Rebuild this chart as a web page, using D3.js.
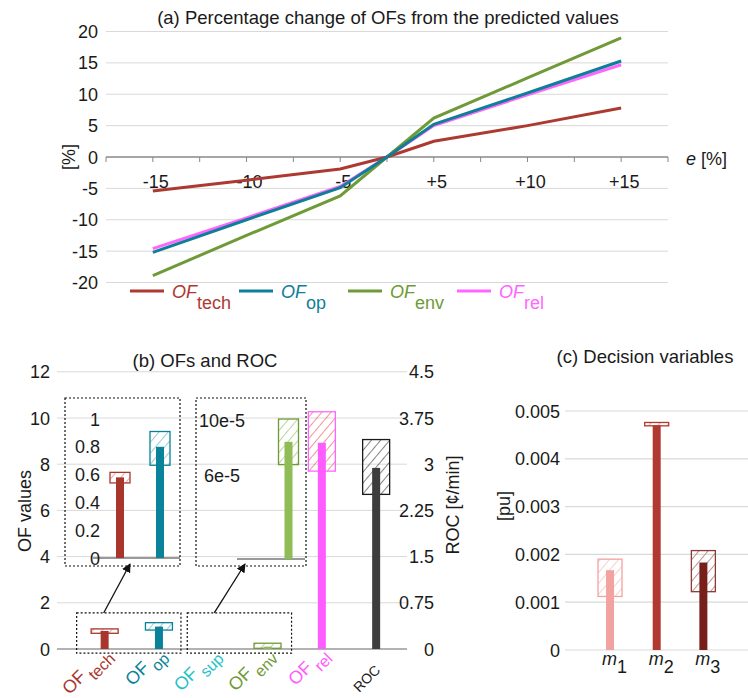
<!DOCTYPE html>
<html>
<head>
<meta charset="utf-8">
<script src="https://cdn.jsdelivr.net/npm/d3@7"></script>
<style>
body { margin: 0; background: #fff; }
text { font-family: "Liberation Sans", Arial, sans-serif; fill: #1a1a1a; }
</style>
</head>
<body>
<div id="chart"></div>
<script>
// ---- data: (a) percentage change of OFs
const eValues = [-15, -10, -5, 0, 5, 10, 15]
const eLabels = [-15, -10, -5, 5, 10, 15]
const ofTech = [-5.4, -3.7, -1.9, 0, 2.5, 5.0, 7.8]
const ofOp = [-15.2, -10.0, -4.9, 0, 5.2, 10.2, 15.3]
const ofEnv = [-18.9, -12.5, -6.2, 0, 6.2, 12.6, 19.0]
const ofRel = [-14.6, -9.7, -4.7, 0, 5.0, 9.9, 14.7]
const pctTicks = [-20, -15, -10, -5, 0, 5, 10, 15, 20]

// ---- data: (b) OFs and ROC
const ofCats = ["tech", "op", "sup", "env", "rel", "ROC"]
const ofValue = [0.78, 0.97, null, 0.1, 8.93, 2.94]   // ROC on right axis
const ofLow = [0.68, 0.82, null, 0.03, 7.7, 2.51]
const ofHigh = [0.87, 1.14, null, 0.25, 10.27, 3.40]
const ofTicks = [0, 2, 4, 6, 8, 10, 12]
const rocTicks = [0, 0.75, 1.5, 2.25, 3, 3.75, 4.5]
// zoomed insets
const zoom1Cats = ["tech", "op"]
const zoom1Value = [0.58, 0.80]
const zoom1Low = [0.54, 0.667]
const zoom1High = [0.616, 0.91]
const zoom1Ticks = [0, 0.2, 0.4, 0.6, 0.8, 1]
const zoom2Cats = ["sup", "env"]
const zoom2Value = [null, 8.43e-5]
const zoom2Low = [null, 6.79e-5]
const zoom2High = [null, 10.07e-5]
const zoom2Ticks = [6e-5, 10e-5]

// ---- data: (c) decision variables
const mCats = ["1", "2", "3"]
const mValue = [0.00167, 0.0047, 0.00183]
const mLow = [0.00112, 0.00469, 0.00122]
const mHigh = [0.0019, 0.00476, 0.00208]
const puTicks = [0, 0.001, 0.002, 0.003, 0.004, 0.005]

const width = 748
const height = 698
const fs = 18   // tick / label font size
const svg = d3.select("#chart").append("svg").attr("width", width).attr("height", height)
const defs = svg.append("defs")

function hatch(id, color) {
    const p = defs.append("pattern").attr("id", id)
        .attr("patternUnits", "userSpaceOnUse")
        .attr("width", 7).attr("height", 7)
        .attr("patternTransform", "rotate(40)")
    p.append("line").attr("x1", 0).attr("y1", 0).attr("x2", 0).attr("y2", 7)
        .attr("stroke", color).attr("stroke-width", 1.6)
    return `url(#${id})`
}

// =========== (a) ===========
const xA = d3.scaleLinear().domain([-17.5, -5, 0, 5, 17.5]).range([106, 340.2, 387, 433.8, 668])
const yA = d3.scaleLinear().domain([-20, 20]).range([282.5, 31.5])
const gA = svg.append("g")

gA.selectAll(".grid").data(pctTicks.filter(d => d !== 0)).join("line")
    .attr("x1", 106).attr("x2", 668)
    .attr("y1", d => yA(d)).attr("y2", d => yA(d))
    .attr("stroke", "#d9d9d9").attr("stroke-width", 1)

gA.selectAll(".ylab").data(pctTicks).join("text")
    .attr("x", 98).attr("y", d => yA(d) + 6.5)
    .attr("text-anchor", "end").attr("font-size", fs)
    .text(d => d)

const xTickVals = [-17.5, -15, -12.5, -10, -7.5, -5, 0, 5, 7.5, 10, 12.5, 15, 17.5]
gA.append("line").attr("x1", 106).attr("x2", 668)
    .attr("y1", yA(0)).attr("y2", yA(0)).attr("stroke", "#888").attr("stroke-width", 1.5)
gA.selectAll(".xtick").data(xTickVals).join("line")
    .attr("x1", d => xA(d)).attr("x2", d => xA(d))
    .attr("y1", yA(0)).attr("y2", yA(0) + 5)
    .attr("stroke", "#888")
gA.selectAll(".xlab").data(eLabels).join("text")
    .attr("x", d => xA(d) + 3).attr("y", yA(0) + 31)
    .attr("text-anchor", "middle").attr("font-size", fs)
    .text(d => d > 0 ? "+" + d : d)

const seriesA = [
    {name: "tech", values: ofTech, color: "#ac3a31"},
    {name: "op", values: ofOp, color: "#0f7f99"},
    {name: "env", values: ofEnv, color: "#6f9a38"},
    {name: "rel", values: ofRel, color: "#ff66ff"}
]
const lineA = d3.line().x((d, i) => xA(eValues[i])).y(d => yA(d))
// rel drawn under op, so draw order rel, env, tech, op
gA.selectAll(".series").data([seriesA[3], seriesA[2], seriesA[0], seriesA[1]]).join("path")
    .attr("d", d => lineA(d.values))
    .attr("fill", "none").attr("stroke", d => d.color).attr("stroke-width", 3)

gA.append("text").attr("x", 388).attr("y", 24).attr("text-anchor", "middle")
    .attr("font-size", 18.5).text("(a) Percentage change of OFs from the predicted values")
gA.append("text").attr("transform", `translate(75,${yA(0)}) rotate(-90)`)
    .attr("text-anchor", "middle").attr("font-size", fs).text("[%]")
const eLab = gA.append("text").attr("x", 686).attr("y", yA(0) + 8).attr("font-size", fs)
eLab.append("tspan").attr("font-style", "italic").text("e")
eLab.append("tspan").text(" [%]")

// legend
const legA = gA.selectAll(".leg").data(seriesA).join("g")
    .attr("transform", (d, i) => `translate(${130 + i * 109},291)`)
legA.append("line").attr("x1", 0).attr("x2", 34).attr("stroke", d => d.color).attr("stroke-width", 3)
const legText = legA.append("text").attr("x", 42).attr("y", 7).attr("font-size", fs)
    .style("fill", d => d.color)
legText.append("tspan").attr("font-style", "italic").text("OF")
legText.append("tspan").attr("dy", 11).text(d => d.name)

// =========== (b) ===========
const yB = d3.scaleLinear().domain([0, 12]).range([649, 371.8])
const yR = d3.scaleLinear().domain([0, 4.5]).range([649, 371.8])
const xB = d3.scaleBand().domain(ofCats).range([77.5, 403.3])
const cx = c => xB(c) + xB.bandwidth() / 2
const gB = svg.append("g")

gB.selectAll(".grid").data(ofTicks.filter(d => d > 0)).join("line")
    .attr("x1", 57).attr("x2", 407)
    .attr("y1", d => yB(d)).attr("y2", d => yB(d))
    .attr("stroke", "#d9d9d9")
gB.append("line").attr("x1", 57).attr("x2", 407).attr("y1", yB(0)).attr("y2", yB(0))
    .attr("stroke", "#999").attr("stroke-width", 1.5)
gB.selectAll(".ylab").data(ofTicks).join("text")
    .attr("x", 50).attr("y", d => yB(d) + 6.5).attr("text-anchor", "end").attr("font-size", fs)
    .text(d => d)
gB.selectAll(".rlab").data(rocTicks).join("text")
    .attr("x", 434).attr("y", d => yR(d) + 6.5).attr("text-anchor", "end").attr("font-size", fs)
    .text(d => d)
gB.append("text").attr("x", 205).attr("y", 367).attr("text-anchor", "middle")
    .attr("font-size", 18.5).text("(b) OFs and ROC")
gB.append("text").attr("transform", "translate(31,511) rotate(-90)")
    .attr("text-anchor", "middle").attr("font-size", fs).text("OF values")
gB.append("text").attr("transform", "translate(459,505) rotate(-90)")
    .attr("text-anchor", "middle").attr("font-size", fs).text("ROC [¢/min]")

const colB = {
    tech: {bar: "#a9362d", line: "#a9362d", hatch: "#e69a94", label: "#a9362d"},
    op: {bar: "#0a8299", line: "#0a8299", hatch: "#7fc3d1", label: "#0a8299"},
    sup: {bar: "#20c4c4", line: "#20c4c4", hatch: "#20c4c4", label: "#1fc2c6"},
    env: {bar: "#8fbc55", line: "#6f9a38", hatch: "#a8cc80", label: "#6f9a38"},
    rel: {bar: "#ff5cff", line: "#ff66ff", hatch: "#f07a7a", label: "#ff5cff"},
    ROC: {bar: "#3d3d3d", line: "#1a1a1a", hatch: "#666", label: "#1a1a1a"}
}
ofCats.forEach(c => { colB[c].fill = hatch("h-" + c, colB[c].hatch) })

const rowsB = ofCats.map((c, i) => ({cat: c, v: ofValue[i], lo: ofLow[i], hi: ofHigh[i],
    y: c === "ROC" ? yR : yB})).filter(d => d.v !== null)

gB.selectAll(".box").data(rowsB).join("rect")
    .attr("x", d => cx(d.cat) - 13.5).attr("width", 27)
    .attr("y", d => d.y(d.hi)).attr("height", d => d.y(d.lo) - d.y(d.hi))
    .attr("fill", d => colB[d.cat].fill).attr("stroke", d => colB[d.cat].line).attr("stroke-width", 1.3)
gB.selectAll(".bar").data(rowsB).join("rect")
    .attr("x", d => cx(d.cat) - 4).attr("width", 8)
    .attr("y", d => d.y(d.v)).attr("height", d => d.y(0) - d.y(d.v))
    .attr("fill", d => colB[d.cat].bar)

// category labels, rotated 45deg: "OF" + lowered subscript, each a separate text in a rotated group
const ofLabCats = ofCats.filter(d => d !== "ROC")
const labB = gB.selectAll(".clab").data(ofLabCats).join("g")
    .attr("transform", d => `translate(${cx(d) + 6},654) rotate(-45)`)
    .style("fill", d => colB[d].label)
labB.append("text").attr("class", "sub").attr("x", 0).attr("y", 8)
    .attr("text-anchor", "end").attr("font-size", 16)
    .style("fill", d => colB[d].label).text(d => d)
labB.each(function() {
    const g = d3.select(this)
    const w = g.select(".sub").node().getComputedTextLength()
    g.append("text").attr("x", -w - 3).attr("y", 0).attr("text-anchor", "end")
        .attr("font-size", 18).style("fill", d => colB[d].label).text("OF")
})
gB.append("text")
    .attr("transform", `translate(${cx("ROC") + 5},671) rotate(-45)`)
    .attr("text-anchor", "end").attr("font-size", 14).text("ROC")

// insets with dotted frames
function inset(cats, values, lows, highs, yScale, xRange, frame, base) {
    const xs = d3.scaleBand().domain(cats).range(xRange)
    const g = gB.append("g")
    g.append("rect").attr("x", frame[0]).attr("y", frame[1])
        .attr("width", frame[2] - frame[0]).attr("height", frame[3] - frame[1])
        .attr("fill", "none").attr("stroke", "#111").attr("stroke-dasharray", "2,2").attr("stroke-width", 1.2)
    g.append("line").attr("x1", base[0]).attr("x2", base[1])
        .attr("y1", yScale(0)).attr("y2", yScale(0)).attr("stroke", "#999").attr("stroke-width", 2)
    const rows = cats.map((c, i) => ({cat: c, v: values[i], lo: lows[i], hi: highs[i]})).filter(d => d.v !== null)
    const mid = c => xs(c) + xs.bandwidth() / 2
    g.selectAll(".box").data(rows).join("rect")
        .attr("x", d => mid(d.cat) - 10).attr("width", 20)
        .attr("y", d => yScale(d.hi)).attr("height", d => yScale(d.lo) - yScale(d.hi))
        .attr("fill", d => colB[d.cat].fill).attr("stroke", d => colB[d.cat].line).attr("stroke-width", 1.3)
    g.selectAll(".bar").data(rows).join("rect")
        .attr("x", d => mid(d.cat) - 4).attr("width", 8)
        .attr("y", d => yScale(d.v)).attr("height", d => yScale(0) - yScale(d.v))
        .attr("fill", d => colB[d.cat].bar)
    return g
}
const yZ1 = d3.scaleLinear().domain([0, 1]).range([558, 419])
const z1 = inset(zoom1Cats, zoom1Value, zoom1Low, zoom1High, yZ1, [100, 180], [65, 398, 180, 566], [93, 180])
z1.selectAll(".zl").data(zoom1Ticks).join("text")
    .attr("x", 100).attr("y", d => yZ1(d) + 6.5).attr("text-anchor", "end").attr("font-size", fs)
    .text(d => d)
const yZ2 = d3.scaleLinear().domain([0, 10e-5]).range([559, 420])
const z2 = inset(zoom2Cats, zoom2Value, zoom2Low, zoom2High, yZ2, [236, 306], [196, 398, 306, 566], [237, 305])
z2.selectAll(".zl").data(zoom2Ticks).join("text")
    .attr("x", 222).attr("y", d => yZ2(d) + 6.5).attr("text-anchor", "middle").attr("font-size", fs)
    .text(d => Math.round(d * 1e5) + "e-5")

// small dotted boxes around the tiny bars + arrows
const markerArrow = defs.append("marker").attr("id", "arr")
    .attr("viewBox", "0 0 10 10").attr("refX", 9).attr("refY", 5)
    .attr("markerWidth", 7).attr("markerHeight", 7).attr("orient", "auto")
markerArrow.append("path").attr("d", "M0,0 L10,5 L0,10 z").attr("fill", "#111")
const smallBoxes = [
    {x0: cx("tech") - 28, x1: cx("op") + 22, to: [130, 564]},
    {x0: cx("sup") - 26, x1: cx("env") + 24, to: [245, 564]}
]
gB.selectAll(".sbox").data(smallBoxes).join("rect")
    .attr("x", d => d.x0).attr("width", d => d.x1 - d.x0)
    .attr("y", yB(1.56)).attr("height", yB(-0.18) - yB(1.56))
    .attr("fill", "none").attr("stroke", "#111").attr("stroke-dasharray", "2,2").attr("stroke-width", 1.2)
gB.selectAll(".arrow").data(smallBoxes).join("line")
    .attr("x1", d => d.x0 + 27).attr("y1", yB(1.56))
    .attr("x2", d => d.to[0]).attr("y2", d => d.to[1])
    .attr("stroke", "#111").attr("stroke-width", 1.3).attr("marker-end", "url(#arr)")

// =========== (c) ===========
const yC = d3.scaleLinear().domain([0, 0.005]).range([650, 411])
const xC = d3.scaleBand().domain(mCats).range([586.7, 726.7])
const mx = c => xC(c) + xC.bandwidth() / 2
const gC = svg.append("g")
gC.selectAll(".grid").data(puTicks).join("line")
    .attr("x1", 565).attr("x2", 748)
    .attr("y1", d => yC(d)).attr("y2", d => yC(d))
    .attr("stroke", "#d9d9d9").attr("stroke-width", 1.2)
gC.selectAll(".ylab").data(puTicks).join("text")
    .attr("x", 560).attr("y", d => yC(d) + 6.5).attr("text-anchor", "end").attr("font-size", fs)
    .text(d => d)
gC.append("text").attr("x", 645).attr("y", 363).attr("text-anchor", "middle")
    .attr("font-size", 18.5).text("(c) Decision variables")
gC.append("text").attr("transform", "translate(510,506) rotate(-90)")
    .attr("text-anchor", "middle").attr("font-size", fs).text("[pu]")

const colC = [
    {bar: "#f2a3a0", line: "#f2a3a0", hatch: "#f6c3c1"},
    {bar: "#b03a31", line: "#b03a31", hatch: "#e6a09a"},
    {bar: "#77201a", line: "#8b3a35", hatch: "#b07a76"}
]
colC.forEach((c, i) => { c.fill = hatch("hm" + i, c.hatch) })
const rowsC = mCats.map((c, i) => ({cat: c, v: mValue[i], lo: mLow[i], hi: mHigh[i], col: colC[i]}))
gC.selectAll(".box").data(rowsC).join("rect")
    .attr("x", d => mx(d.cat) - 12).attr("width", 24)
    .attr("y", d => yC(d.hi)).attr("height", d => yC(d.lo) - yC(d.hi))
    .attr("fill", d => d.col.fill).attr("stroke", d => d.col.line).attr("stroke-width", 1.3)
gC.selectAll(".bar").data(rowsC).join("rect")
    .attr("x", d => mx(d.cat) - 4).attr("width", 8)
    .attr("y", d => yC(d.v)).attr("height", d => yC(0) - yC(d.v))
    .attr("fill", d => d.col.bar)
const mLab = gC.selectAll(".mlab").data(mCats).join("text")
    .attr("x", d => mx(d) - 8).attr("y", 665).attr("font-size", fs)
mLab.append("tspan").attr("font-style", "italic").text("m")
mLab.append("tspan").attr("dy", 8).text(d => d)
</script>
</body>
</html>
